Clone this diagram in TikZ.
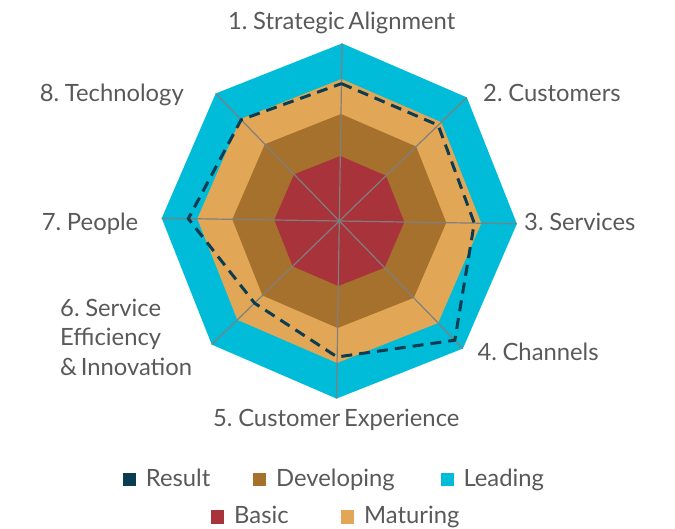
\documentclass[tikz,border=0pt]{standalone}
\usepackage{fontspec}
\setmainfont{Lato}[WordSpace=0.6]
\definecolor{leading}{RGB}{0,188,216}
\definecolor{maturing}{RGB}{226,167,86}
\definecolor{developing}{RGB}{165,113,45}
\definecolor{basic}{RGB}{169,51,58}
\definecolor{result}{RGB}{12,60,82}
\definecolor{axisgray}{RGB}{127,127,127}
\definecolor{labelgray}{RGB}{89,89,89}
\begin{document}
\begin{tikzpicture}[x=1pt,y=-1pt,
  lbl/.style={text=labelgray,inner sep=0pt,font=\fontsize{23.8}{29.5}\selectfont},
  legsq/.style={inner sep=0pt,minimum size=13.5pt,draw=none},
  spoke/.style={draw=axisgray,line width=1.2pt},
  resline/.style={draw=result,line width=3pt,dash pattern=on 11pt off 7pt,line join=miter}]
\useasboundingbox (0,0) rectangle (675,528);
\begin{scope}[shift={(339.3,221)},rotate=-0.9]
  \fill[leading] (-90:177.6) \foreach \a in {-45,0,45,90,135,180,225}{ -- (\a:177.6)} -- cycle;
  \fill[maturing] (-90:142) \foreach \a in {-45,0,45,90,135,180,225}{ -- (\a:142)} -- cycle;
  \fill[developing] (-90:107) \foreach \a in {-45,0,45,90,135,180,225}{ -- (\a:107)} -- cycle;
  \fill[basic] (-90:65) \foreach \a in {-45,0,45,90,135,180,225}{ -- (\a:65)} -- cycle;
  \foreach \a in {-90,-45,0,45,90,135,180,225}{ \draw[spoke] (0,0) -- (\a:177.6); }
  \draw[resline] (-90:137.4) -- (-45:137.7) -- (0:135) -- (45:166) -- (90:136)
     -- (135:118) -- (180:151) -- (225:141) -- cycle;
\end{scope}
\node[lbl,anchor=base] (n1) at (341.7,29.3) {1. Strategic Alignment};
\node[lbl,anchor=base west] (n2) at (483,101.7) {2. Customers};
\node[lbl,anchor=base west] (n3) at (524,230.7) {3. Services};
\node[lbl,anchor=base west] (n4) at (477.3,360) {4. Channels};
\node[lbl,anchor=base] (n5) at (336.3,426.7) {5. Customer Experience};
\node[lbl,anchor=base west,align=left] (n6) at (60,375) {6. Service\\Efficiency\\\& Innovation};
\node[lbl,anchor=base west] (n7) at (41.7,230.7) {7. People};
\node[lbl,anchor=base east] (n8) at (184,101.7) {8. Technology};
% legend
\node[legsq,fill=result] (q1) at (129.7,479.3) {};
\node[lbl,anchor=base west] (t1) at (145.7,486) {Result};
\node[legsq,fill=developing] (q2) at (259.7,479.3) {};
\node[lbl,anchor=base west] (t2) at (276,486) {Developing};
\node[legsq,fill=leading] (q3) at (447.7,479.3) {};
\node[lbl,anchor=base west] (t3) at (463.3,486) {Leading};
\node[legsq,fill=basic] (q4) at (217.7,516.8) {};
\node[lbl,anchor=base west] (t4) at (234,523.5) {Basic};
\node[legsq,fill=maturing] (q5) at (347.7,516.8) {};
\node[lbl,anchor=base west] (t5) at (364,523.5) {Maturing};
\end{tikzpicture}
\end{document}
